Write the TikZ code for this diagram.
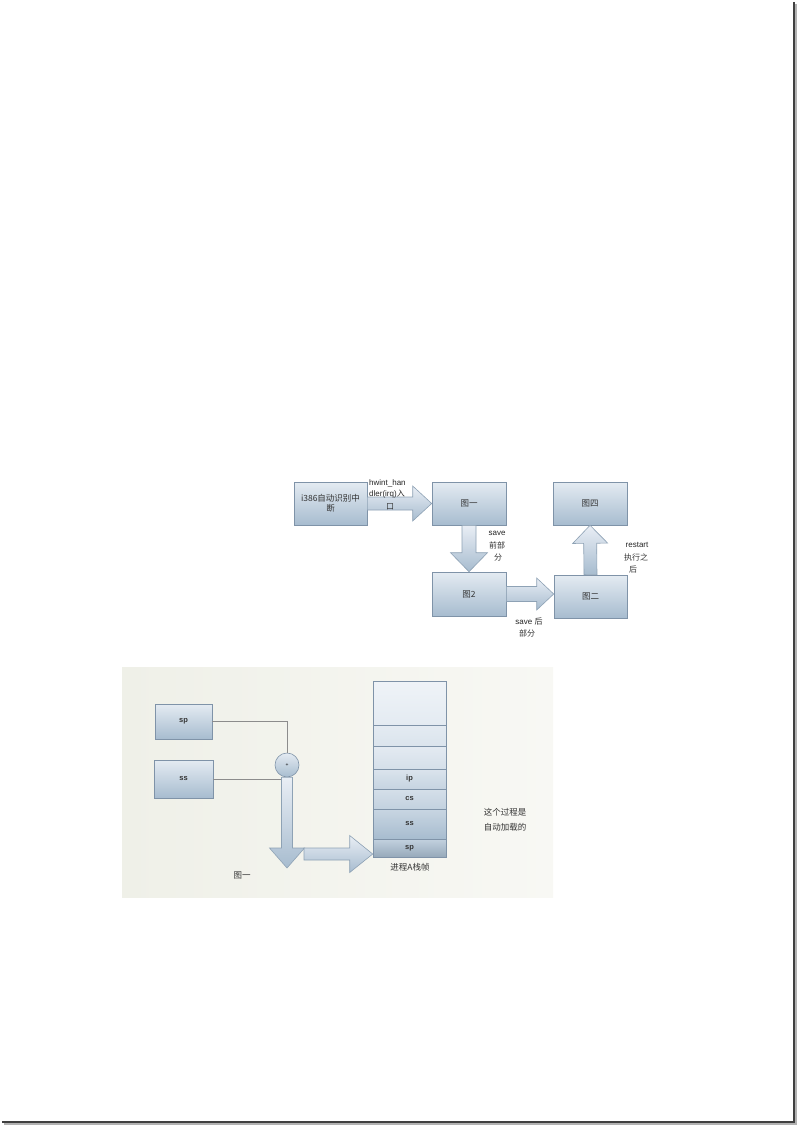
\documentclass[tikz,border=0pt]{standalone}
\usepackage{fontspec}
\setmainfont{Liberation Sans}
\newfontfamily\cjk{Noto Sans CJK SC}
\usetikzlibrary{calc,shadings}
\definecolor{bxline}{HTML}{7F93A8}
\definecolor{bxtop}{HTML}{E4EBF2}
\definecolor{bxbot}{HTML}{A7BCCF}
\definecolor{arline}{HTML}{8EA2B5}
\definecolor{artop}{HTML}{E9EEF5}
\definecolor{lnk}{HTML}{8C8C8C}
\definecolor{bgA}{HTML}{EFF0E8}
\definecolor{bgB}{HTML}{F8F8F4}
\newcommand\blockarr[6][]{%
  \coordinate (bah) at ($(#3)!#6!(#2)$);
  \path[blockarrow,#1] ($(#2)!#4!90:(#3)$) -- ($(bah)!#4!90:(#3)$) -- ($(bah)!#5!90:(#3)$) -- (#3)
    -- ($(bah)!#5!-90:(#3)$) -- ($(bah)!#4!-90:(#3)$) -- ($(#2)!#4!-90:(#3)$) -- cycle;}
\tikzset{
  ubox/.style={draw=bxline, line width=0.6pt, top color=bxtop, bottom color=bxbot,
    minimum width=74pt, minimum height=43pt, inner sep=1pt, align=center,
    font=\cjk\fontsize{8.5}{10.5}\selectfont, text=black!80},
  lbox/.style={draw=bxline, line width=0.6pt, top color=bxtop, bottom color=bxbot,
    minimum width=58pt, minimum height=36pt, inner sep=0pt,
    font=\bfseries\fontsize{7.5}{8}\selectfont, text=black!80},
  srow/.style={draw=bxline, line width=0.6pt, minimum width=73pt, inner sep=0pt,
    font=\bfseries\fontsize{7.5}{8}\selectfont, text=black!80},
  blockarrow/.style={draw=arline, line width=0.6pt, top color=artop, bottom color=bxbot},
  lbl/.style={inner sep=0pt, font=\fontsize{8}{9}\selectfont, text=black!85},
  clbl/.style={inner sep=0pt, font=\cjk\fontsize{8}{9}\selectfont, text=black!80},
  lnkline/.style={draw=lnk, line width=0.7pt},
}
\begin{document}
\begin{tikzpicture}[x=1pt,y=-1pt]
\useasboundingbox (0,0) rectangle (798,1126);
\fill[white] (0,0) rectangle (798,1126);
% page frame
\draw[line width=2.5pt, black!30] (795.8,4) -- (795.8,1123.8) -- (4,1123.8);
\draw[line width=1.2pt, black!75] (794,2) -- (794,1122) -- (2,1122);

% ---------- upper flow ----------
\node[ubox, minimum width=73pt] (i386) at (330.5,503.5) {i386{\cjk 自动识别中}\\断};
\node[ubox] (t1) at (469,503.5) {图一};
\node[ubox] (t4) at (590,503.5) {图四};
\node[ubox, minimum height=44pt] (t2) at (469,594) {图2};
\node[ubox, minimum width=73pt] (t3) at (590.5,596.5) {图二};

\blockarr{i386.east}{t1.west}{6.5pt}{17.5pt}{19pt}
\blockarr{t1.south}{t2.north}{7pt}{18.5pt}{19pt}
\coordinate (t3in) at (t2.east -| t3.west);
\blockarr{t2.east}{t3in}{7.5pt}{16pt}{17pt}
\blockarr{t3.north}{t4.south}{6.5pt}{17.5pt}{18pt}

\node[lbl, anchor=west] (hw1) at (369,483) {hwint\_han};
\node[lbl, anchor=west] (hw2) at (369,494.5) {dler(irq){\cjk 入}};
\node[clbl] (hw3) at (390,507) {口};

\node[lbl] (sv1) at (497,533) {save};
\node[clbl] (sv2) at (497,545.5) {前部};
\node[clbl] (sv3) at (498,558) {分};

\node[lbl] (sa1) at (529,621) {save {\cjk 后}};
\node[clbl] (sa2) at (527,633) {部分};

\node[lbl] (rs1) at (637,545) {restart};
\node[clbl] (rs2) at (636,557.5) {执行之};
\node[clbl] (rs3) at (633,569.5) {后};

% ---------- lower figure ----------
\fill[left color=bgA, right color=bgB] (122,667) rectangle (553,897);

\node[lbox, minimum width=57pt, minimum height=35pt] (sp) at (183.5,721.5) {sp};
\node[lbox, minimum width=59pt, minimum height=38pt] (ss) at (183.5,779) {ss};
\node[circle, draw=bxline, line width=0.6pt, top color=bxtop, bottom color=bxbot,
      minimum size=24pt, inner sep=0pt, font=\fontsize{5}{5}\selectfont] (plus) at (287,765) {+};

% stack
\node[srow, minimum height=44pt, top color=white!40!bxtop, bottom color=bxtop] (r1) at (409.5,703) {};
\node[srow, minimum height=21pt, top color=bxtop, bottom color=bxtop!85!bxbot] (r2) at (409.5,735.5) {};
\node[srow, minimum height=23pt, top color=bxtop, bottom color=bxtop!75!bxbot] (r3) at (409.5,757.5) {};
\node[srow, minimum height=20pt, top color=bxtop!85!bxbot, bottom color=bxtop!50!bxbot] (rip) at (409.5,779) {ip};
\node[srow, minimum height=20pt, top color=bxtop!75!bxbot, bottom color=bxtop!45!bxbot] (rcs) at (409.5,799) {cs};
\node[srow, minimum height=30pt, top color=bxtop!55!bxbot, bottom color=bxbot] (rss) at (409.5,824) {ss};
\node[srow, minimum height=18pt, top color=bxtop!45!bxbot, bottom color=bxbot!90!black] (rsp) at (409.5,848) {sp};

% connectors
\draw[lnkline] (sp.east) -| (plus.north);
\coordinate (ssend) at ($(ss.east -| plus.center)+(-5.5,0)$);
\draw[lnkline] (ss.east) -- (ssend);

\coordinate (dtip) at ($(plus.center)+(0,103)$);
\blockarr{plus.south}{dtip}{5.5pt}{17.5pt}{20pt}
\coordinate (rstart) at (304,854);
\coordinate (rtip) at (rstart -| rsp.west);
\blockarr{rstart}{rtip}{6pt}{18.5pt}{23pt}

\node[clbl, font=\cjk\fontsize{8.5}{9}\selectfont] (cap1) at (410,867) {进程A栈帧};
\node[clbl, font=\cjk\fontsize{8.5}{9}\selectfont] (cap2) at (242,875) {图一};
\node[clbl, font=\cjk\fontsize{8.5}{15}\selectfont, align=center] (note) at (505,819.5) {这个过程是\\自动加载的};
\end{tikzpicture}
\end{document}
